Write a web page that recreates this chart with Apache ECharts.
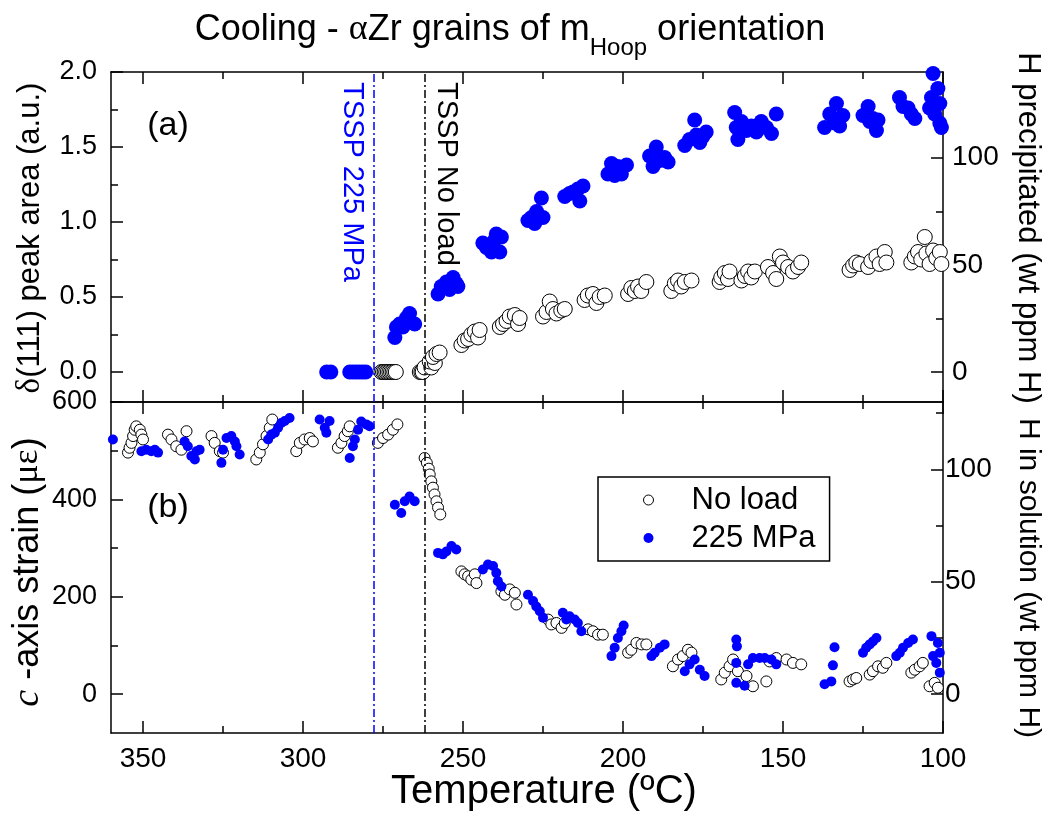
<!DOCTYPE html>
<html><head><meta charset="utf-8">
<script src="https://cdn.jsdelivr.net/npm/echarts@6/dist/echarts.min.js"></script>
<style>html,body{margin:0;padding:0;background:#fff}#c{width:1047px;height:817px}</style>
</head><body><div id="c"></div><script>
const SANS = '"Liberation Sans", Arial, Helvetica, sans-serif';
const SERIF = '"Liberation Serif", "Times New Roman", serif';

// ---- tick values ----
const xMajor = [100, 150, 200, 250, 300, 350];
const xMinor = [125, 175, 225, 275, 325];
const yTopMajor = [0, 0.5, 1, 1.5, 2];
const yTopMinor = [0.25, 0.75, 1.25, 1.75];
const yTopRMajor = [0, 50, 100];
const yTopRMinor = [25, 75, 125];
const yBotMajor = [0, 200, 400, 600];
const yBotMinor = [100, 300, 500];
const yBotRMajor = [0, 50, 100];
const yBotRMinor = [25, 75, 125];

// ---- TSSP temperatures (ºC) ----
const tsspLoad = 278;
const tsspNoLoad = 262;

// ---- (a) δ(111) peak area, no load [T, area] ----
const topNoLoad = [
 [275.5,0],[275,0],[274.5,0],[274,0],[273.5,0],[273,0],[272.5,0],[272,0],[271.5,0],[271,0],
 [263.5,0],[263,0],[262.6,0],
 [262,0.03],[259.9,0.03],[260.4,0.07],[258.8,0.06],[259.4,0.10],[258.3,0.12],[257.3,0.13],
 [250.5,0.18],[249.5,0.21],[248.4,0.22],[247.4,0.25],[246.3,0.27],[245.3,0.23],[244.8,0.28],
 [238.5,0.30],[237.5,0.32],[236.4,0.34],[235.4,0.37],[233.8,0.38],[232.8,0.32],[232.3,0.36],
 [225,0.37],[223.9,0.40],[222.9,0.47],[221.9,0.42],[220.8,0.39],[219.3,0.41],[218.2,0.42],
 [212,0.48],[211,0.51],[209.4,0.52],[208.3,0.46],[207.3,0.50],[205.7,0.51],
 [198.4,0.52],[197.4,0.56],[196.3,0.54],[195.3,0.57],[194.3,0.54],[192.7,0.60],
 [184.9,0.54],[183.8,0.59],[182.8,0.61],[181.8,0.57],[180.7,0.60],[178.6,0.61],
 [169.8,0.60],[169.3,0.63],[168.2,0.66],[167.2,0.62],[166.7,0.67],
 [163,0.61],[161.9,0.64],[160.9,0.67],[159.9,0.63],[158.8,0.67],
 [154.7,0.70],[153.1,0.66],[152.1,0.62],[151,0.77],[150,0.73],[148.4,0.70],[146.9,0.67],[145.3,0.70],[144.3,0.73],
 [129.2,0.68],[128.1,0.71],[127.1,0.73],[126,0.72],[123.4,0.70],[122.4,0.74],[120.8,0.77],[119.8,0.72],[118.2,0.80],[117.7,0.73],
 [109.9,0.73],[108.8,0.77],[107.8,0.80],[106.8,0.75],[105.7,0.90],[105.2,0.79],[104.2,0.72],[103.1,0.81],[102.1,0.76],[101.0,0.80],[100.5,0.72]
];

// ---- (a) δ(111) peak area, 225 MPa [T, area] ----
const topLoad = [
 [292.6,0],[291.3,0],[285.4,0],[284.4,0],[283.4,0],[282.4,0],[281.4,0],[280.4,0],
 [271.3,0.23],[270.8,0.30],[269.8,0.32],[268.8,0.30],[267.7,0.36],[266.7,0.39],[265.1,0.32],
 [257.8,0.52],[256.8,0.57],[255.2,0.60],[254.2,0.55],[253.1,0.63],[252.1,0.59],[251.6,0.57],
 [243.8,0.86],[242.7,0.83],[241.1,0.80],[240.1,0.88],[239.6,0.92],[238.5,0.80],[238,0.90],
 [229.7,1.01],[228.6,1.03],[227.6,0.99],[227,1.07],[225.5,1.16],[225,1.03],
 [218.2,1.17],[216.7,1.19],[215.6,1.20],[214.1,1.22],[213.5,1.14],[212.5,1.24],
 [204.7,1.32],[203.6,1.39],[202.6,1.31],[201.6,1.37],[200.5,1.32],[198.9,1.38],
 [191.7,1.44],[190.6,1.37],[189.6,1.50],[188.5,1.41],[187,1.43],[185.9,1.40],
 [180.7,1.51],[179.2,1.55],[177.6,1.68],[177.1,1.58],[176,1.53],[175,1.57],[174,1.60],
 [165.1,1.73],[164.6,1.63],[164.1,1.55],[163,1.67],[161.4,1.61],[159.9,1.64],[158.3,1.60],[156.8,1.67],[155.2,1.63],[153.6,1.59],[152.1,1.72],
 [137,1.63],[135.4,1.72],[133.8,1.66],[133.3,1.79],[132.3,1.64],[131.3,1.71],
 [125,1.71],[123.4,1.77],[122.9,1.67],[121.9,1.69],[120.8,1.61],[120.3,1.68],
 [113.6,1.83],[112.5,1.77],[110.9,1.76],[109.9,1.72],[108.8,1.69],
 [103.1,1.99],[103.6,1.83],[104.2,1.76],[102.6,1.72],[101.6,1.89],[101,1.79],[101,1.66],[100.5,1.63]
];

// ---- (b) c-axis strain, no load [T, με] ----
const botNoLoad = [
 [354.7,496],[354.2,506],[353.6,516],[353.1,530],[352.6,543],[352.1,550],[351,543],[350.5,533],[350,523],
 [342.2,533],[341.1,523],[339.6,509],[338,502],[336.4,540],
 [328.6,530],[327.6,516],[326,499],[325,496],
 [314.6,482],[313.5,496],[312.5,513],[311.4,530],[310.4,547],[309.6,564],
 [302.1,499],[301,516],[299.5,523],[297.9,526],[296.9,519],
 [289.1,506],[288,516],[287,530],[286,540],[285.4,550],
 [276.6,516],[275,526],[273.4,533],[271.9,543],[270.5,554],
 [262,485],[261.3,475],[260.7,463],[260.4,451],[259.9,437],[259.4,424],[258.9,410],[258.3,396],[257.8,383],[257.1,369],
 [250.5,252],[249.5,246],[248.4,242],[247.4,235],[246.3,246],[245.8,228],
 [238,211],[236.9,204],[235.4,215],[233.8,208],[233.3,184],
 [223.4,153],[222.4,143],[220.8,146],[219.2,136],[218.2,146],
 [210.9,133],[209.4,129],[207.8,122],[206.3,122],
 [198.4,85],[197.4,91],[195.8,105],[194.2,102],[192.7,102],
 [184.4,57],[182.8,71],[181.3,78],[179.7,91],[178.6,85],
 [169.3,30],[168.2,44],[166.7,57],[165.6,71],[164.1,47],[161.4,37],[159.4,16],
 [155.2,26],[154.2,67],[152.1,74],[148.9,71],[146.9,64],[144.3,61],
 [129.2,26],[128.1,30],[127.1,33],
 [122.9,40],[121.9,47],[120.3,57],[118.8,54],[117.7,64],
 [109.9,44],[108.8,50],[107.3,57],[106.3,64],
 [104.2,16],[102.6,23],[101.6,13]
];

// ---- (b) c-axis strain, 225 MPa [T, με] ----
const botLoad = [
 [359.4,523],
 [350.5,499],[349,502],[347.4,499],[346.3,502],[345.3,496],
 [337,519],[336,509],[334.9,489],[333.8,482],[333.3,499],[332.3,502],
 [325.5,475],[325,502],[323.9,526],[322.4,530],[321.3,519],[320.8,509],[319.8,492],
 [310.9,523],[309.9,533],[308.8,537],[307.8,547],[306.8,557],[305.7,561],[304.2,567],
 [294.8,564],[293.2,547],[292.7,537],[291.7,561],
 [285.4,485],[284.4,509],[283.8,523],[282.8,543],[281.8,560],[280.2,554],[279.2,550],
 [271.3,389],[269.3,372],[268.2,396],[266.7,406],[265.1,396],
 [257.8,290],[256.3,287],[255.2,293],[253.6,304],[252.1,297],
 [243.8,256],[242.2,266],[240.6,263],[239.6,249],[239.1,232],[238,221],
 [229.7,204],[228.1,191],[227.1,180],[226,170],[225,157],
 [218.8,167],[217.7,153],[216.7,160],[215.1,153],[214.1,146],[213,129],
 [203.6,78],[202.6,95],[201.6,115],[200.5,129],[199.8,141],
 [191.1,78],[190.1,85],[188.5,95],[187,102],
 [180.7,47],[179.2,61],[177.6,71],[176,50],[174.5,37],
 [164.6,112],[164.4,98],[164.6,64],[164.6,23],[162,17],
 [160.9,61],[159.4,74],[157.3,74],[155.7,74],[153.6,71],[152.1,61],
 [137,20],[134.9,26],[134.4,59],[133.9,96],
 [125,85],[124,95],[122.9,102],[121.9,108],[120.8,115],
 [114.6,78],[113.5,85],[112.5,95],[110.9,105],[109.4,112],
 [103.6,119],[103.1,78],[102.1,64],[101.6,105],[101,44],[101,85]
];

const BLUE = '#0000ff';

function xAx(gridIndex, position, ticks, len, showLine, showLabel) {
  return {
    type: 'value', gridIndex, position, min: 100, max: 360, inverse: true,
    axisLine: { show: showLine, onZero: false, lineStyle: { color: '#000', width: 1.5 } },
    axisTick: { show: true, inside: true, length: len, customValues: ticks, lineStyle: { color: '#000', width: 1.5 } },
    axisLabel: { show: showLabel, customValues: ticks, fontSize: 28, fontFamily: SANS, color: '#000', margin: 12 },
    splitLine: { show: false }
  };
}
function yAx(gridIndex, position, min, max, ticks, len, showLine, showLabel, fmt, margin, fs) {
  return {
    type: 'value', gridIndex, position, min, max,
    axisLine: { show: showLine, onZero: false, lineStyle: { color: '#000', width: 1.5 } },
    axisTick: { show: true, inside: true, length: len, customValues: ticks, lineStyle: { color: '#000', width: 1.5 } },
    axisLabel: { show: showLabel, customValues: ticks, fontSize: fs || 27, fontFamily: SANS, color: '#000',
                 margin: margin || 14, formatter: fmt || (v => String(v)) },
    splitLine: { show: false }
  };
}

const markLines = {
  silent: true, symbol: ['none', 'none'], label: { show: false }, animation: false,
  data: [
    { xAxis: tsspLoad, lineStyle: { color: '#0000ff', type: [8, 3, 2, 3], width: 1.5 } },
    { xAxis: tsspNoLoad, lineStyle: { color: '#000', type: [8, 3, 2, 3], width: 1.5 } }
  ]
};

const openStyle = { color: '#fff', borderColor: '#000', borderWidth: 1, opacity: 1 };
const blueStyle = { color: BLUE, opacity: 1 };

const chart = echarts.init(document.getElementById('c'), null, { renderer: 'canvas' });
const option = {
  animation: false,
  backgroundColor: '#fff',
  grid: [
    { left: 111, width: 832, top: 72, height: 330, outerBoundsMode: 'none' },
    { left: 111, width: 832, top: 402, height: 331, outerBoundsMode: 'none' }
  ],
  xAxis: [
    xAx(0, 'bottom', xMajor, 12, true, false),
    xAx(0, 'bottom', xMinor, 7, false, false),
    xAx(0, 'top', xMajor, 12, true, false),
    xAx(0, 'top', xMinor, 7, false, false),
    xAx(1, 'bottom', xMajor, 12, true, true),
    xAx(1, 'bottom', xMinor, 7, false, false),
    xAx(1, 'top', xMajor, 12, true, false),
    xAx(1, 'top', xMinor, 7, false, false)
  ],
  yAxis: [
    yAx(0, 'left', -0.2, 2.0, yTopMajor, 12, true, true, v => v.toFixed(1), 14, 27),
    yAx(0, 'left', -0.2, 2.0, yTopMinor, 7, false, false),
    yAx(0, 'right', -14, 140, yTopRMajor, 12, true, true, null, 9, 28),
    yAx(0, 'right', -14, 140, yTopRMinor, 7, false, false),
    yAx(1, 'left', -80, 600, yBotMajor, 12, true, true, null, 14, 27),
    yAx(1, 'left', -80, 600, yBotMinor, 7, false, false),
    yAx(1, 'right', -17.3, 130, yBotRMajor, 12, true, true, null, 2, 28),
    yAx(1, 'right', -17.3, 130, yBotRMinor, 7, false, false)
  ],
  legend: {
    orient: 'vertical', left: 598, top: 477, padding: [7, 14, 7, 45], itemGap: 6,
    itemWidth: 10, itemHeight: 10, borderColor: '#000', borderWidth: 1.5, borderRadius: 0,
    selectedMode: false,
    formatter: n => '{s|}' + n,
    textStyle: { fontSize: 31, fontFamily: SANS, color: '#000', lineHeight: 32, rich: { s: { width: 33 } } },
    data: [
      { name: 'No load', icon: 'circle', itemStyle: { color: '#fff', borderColor: '#000', borderWidth: 1, opacity: 1 } },
      { name: '225 MPa', icon: 'circle', itemStyle: { color: BLUE, opacity: 1 } }
    ]
  },
  series: [
    { type: 'scatter', name: 'No load', xAxisIndex: 0, yAxisIndex: 0, data: topNoLoad, symbol: 'circle',
      symbolSize: 15, itemStyle: openStyle, emphasis: { disabled: true } },
    { type: 'scatter', name: '225 MPa', xAxisIndex: 0, yAxisIndex: 0, data: topLoad, symbol: 'circle',
      symbolSize: 15, itemStyle: blueStyle, emphasis: { disabled: true }, markLine: markLines },
    { type: 'scatter', name: 'No load', xAxisIndex: 4, yAxisIndex: 4, data: botNoLoad, symbol: 'circle',
      symbolSize: 11, itemStyle: openStyle, emphasis: { disabled: true } },
    { type: 'scatter', name: '225 MPa', xAxisIndex: 4, yAxisIndex: 4, data: botLoad, symbol: 'circle',
      symbolSize: 10, itemStyle: blueStyle, emphasis: { disabled: true }, markLine: markLines }
  ]
};
chart.setOption(option);

// ---- text annotations ----
const ctx = document.createElement('canvas').getContext('2d');
function tw(t, size, fam) { ctx.font = size + 'px ' + fam; return ctx.measureText(t).width; }
function txt(x, y, text, size, opts) {
  opts = opts || {};
  return { type: 'text', x, y, rotation: opts.rot || 0, silent: true, z: 100,
    style: Object.assign({ text, fontSize: size, fontFamily: opts.fam || SANS, fill: opts.fill || '#000',
      align: opts.align || 'center', verticalAlign: opts.va || 'middle', fontStyle: opts.fontStyle || 'normal' },
      opts.rich ? { rich: opts.rich } : {}) };
}

const graphics = [];
// Title with subscript
const titleParts = [
  { t: 'Cooling - ', s: 36, f: SANS, dy: 0 },
  { t: 'α', s: 36, f: SERIF, dy: 0 },
  { t: 'Zr grains of m', s: 36, f: SANS, dy: 0 },
  { t: 'Hoop', s: 24, f: SANS, dy: 18 },
  { t: ' orientation', s: 36, f: SANS, dy: 0 }
];
let total = 0;
titleParts.forEach(p => { p.w = tw(p.t, p.s, p.f); total += p.w; });
let cx = 510 - total / 2;
titleParts.forEach(p => { graphics.push(txt(cx, 30 + p.dy, p.t, p.s, { fam: p.f, align: 'left' })); cx += p.w; });

// Axis titles
graphics.push(txt(30, 238, '{g|δ}(111) peak area (a.u.)', 31, { rot: Math.PI / 2,
  rich: { g: { fontFamily: SERIF, fontSize: 33 } } }));
graphics.push(txt(28, 572, '{i|c} -axis strain ({g|με})', 36, { rot: Math.PI / 2,
  rich: { i: { fontFamily: SERIF, fontStyle: 'italic', fontSize: 38 }, g: { fontFamily: SERIF, fontSize: 36 } } }));
graphics.push(txt(1028, 228, 'H precipitated (wt ppm H)', 31, { rot: -Math.PI / 2 }));
graphics.push(txt(1028, 578, 'H in solution (wt ppm H)', 30, { rot: -Math.PI / 2 }));
graphics.push(txt(544, 792, 'Temperature (ºC)', 40));

// Panel tags
graphics.push(txt(168, 126, '(a)', 34));
graphics.push(txt(168, 508, '(b)', 34));

// TSSP labels next to the vertical lines
const xLoad = chart.convertToPixel({ xAxisIndex: 0 }, tsspLoad);
const xNo = chart.convertToPixel({ xAxisIndex: 0 }, tsspNoLoad);
graphics.push(txt(xLoad - 21, 82, 'TSSP 225 MPa', 29, { rot: -Math.PI / 2, align: 'left', fill: '#0000ff' }));
graphics.push(txt(xNo + 21, 82, 'TSSP No load', 29, { rot: -Math.PI / 2, align: 'left' }));

chart.setOption({ graphic: graphics });
</script></body></html>
